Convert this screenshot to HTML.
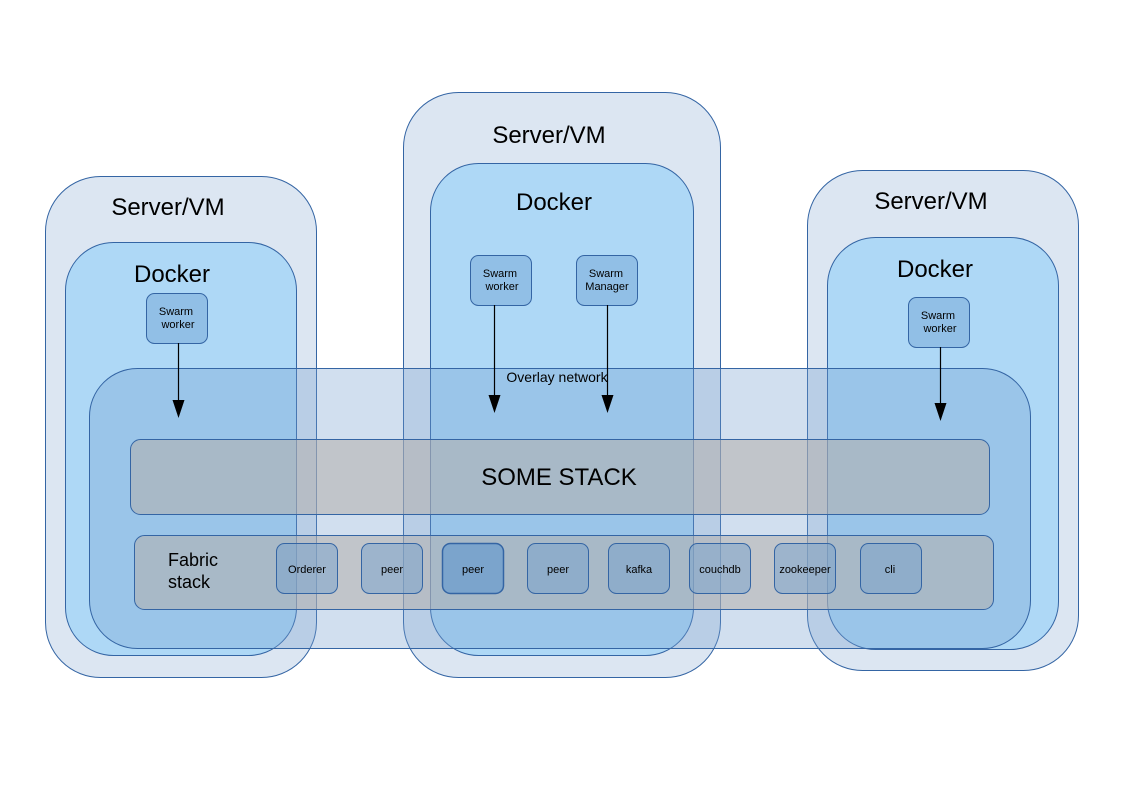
<!DOCTYPE html>
<html><head><meta charset="utf-8"><style>
body{margin:0;background:#fff}
svg{display:block;font-family:"Liberation Sans",sans-serif}
</style></head><body>
<svg width="1123" height="794" viewBox="0 0 1123 794" xmlns="http://www.w3.org/2000/svg">
<g stroke="#3465a4" stroke-width="1">
<rect x="45.5" y="176.5" width="271" height="501" rx="55" fill="#dce6f2"/>
<rect x="403.5" y="92.5" width="317" height="585" rx="55" fill="#dce6f2"/>
<rect x="807.5" y="170.5" width="271" height="500" rx="55" fill="#dce6f2"/>
<rect x="65.5" y="242.5" width="231" height="413" rx="48" fill="#aed8f6"/>
<rect x="430.5" y="163.5" width="263" height="492" rx="48" fill="#aed8f6"/>
<rect x="827.5" y="237.5" width="231" height="412" rx="48" fill="#aed8f6"/>
<rect x="89.5" y="368.5" width="941" height="280" rx="48" fill="#729fcf" fill-opacity="0.33"/>
<rect x="130.5" y="439.5" width="859" height="75" rx="10" fill="#b4afab" fill-opacity="0.55"/>
<rect x="134.5" y="535.5" width="859" height="74" rx="10" fill="#b4afab" fill-opacity="0.55"/>
<rect x="146.5" y="293.5" width="61" height="50" rx="8" fill="#91bfe6"/>
<rect x="470.5" y="255.5" width="61" height="50" rx="8" fill="#91bfe6"/>
<rect x="576.5" y="255.5" width="61" height="50" rx="8" fill="#91bfe6"/>
<rect x="908.5" y="297.5" width="61" height="50" rx="8" fill="#91bfe6"/>
<g fill="#729fcf" fill-opacity="0.45">
<rect x="276.5" y="543.5" width="61" height="50" rx="8"/>
<rect x="361.5" y="543.5" width="61" height="50" rx="8"/>
<rect x="527.5" y="543.5" width="61" height="50" rx="8"/>
<rect x="608.5" y="543.5" width="61" height="50" rx="8"/>
<rect x="689.5" y="543.5" width="61" height="50" rx="8"/>
<rect x="774.5" y="543.5" width="61" height="50" rx="8"/>
<rect x="860.5" y="543.5" width="61" height="50" rx="8"/>
</g>
<rect x="442.5" y="543.5" width="61" height="50" rx="8" fill="#7ba4cc" stroke-width="1.5"/>
</g>
<g stroke="#000" stroke-width="1.2">
<line x1="178.5" y1="343" x2="178.5" y2="402"/>
<line x1="494.5" y1="305" x2="494.5" y2="397"/>
<line x1="607.5" y1="305" x2="607.5" y2="397"/>
<line x1="940.5" y1="347" x2="940.5" y2="405"/>
</g>
<g fill="#000">
<polygon points="172.5,400 184.5,400 178.5,418"/>
<polygon points="488.5,395 500.5,395 494.5,413"/>
<polygon points="601.5,395 613.5,395 607.5,413"/>
<polygon points="934.5,403 946.5,403 940.5,421"/>
</g>
<g fill="#000" text-anchor="middle">
<text x="168" y="215" font-size="24">Server/VM</text>
<text x="549" y="143" font-size="24">Server/VM</text>
<text x="931" y="209" font-size="24">Server/VM</text>
<text x="172" y="282" font-size="24">Docker</text>
<text x="554" y="210" font-size="24">Docker</text>
<text x="935" y="277" font-size="24">Docker</text>
<text x="557" y="382" font-size="14">Overlay network</text>
<text x="559" y="485" font-size="24">SOME STACK</text>
<g font-size="11">
<text x="176" y="315">Swarm</text><text x="178" y="328">worker</text>
<text x="500" y="277">Swarm</text><text x="502" y="290">worker</text>
<text x="606" y="277">Swarm</text><text x="607" y="290">Manager</text>
<text x="938" y="319">Swarm</text><text x="940" y="332">worker</text>
<text x="307" y="573">Orderer</text>
<text x="392" y="573">peer</text>
<text x="473" y="573">peer</text>
<text x="558" y="573">peer</text>
<text x="639" y="573">kafka</text>
<text x="720" y="573">couchdb</text>
<text x="805" y="573">zookeeper</text>
<text x="890" y="573">cli</text>
</g>
</g>
<text x="168" y="566" font-size="18">Fabric</text>
<text x="168" y="588" font-size="18">stack</text>
</svg>
</body></html>
